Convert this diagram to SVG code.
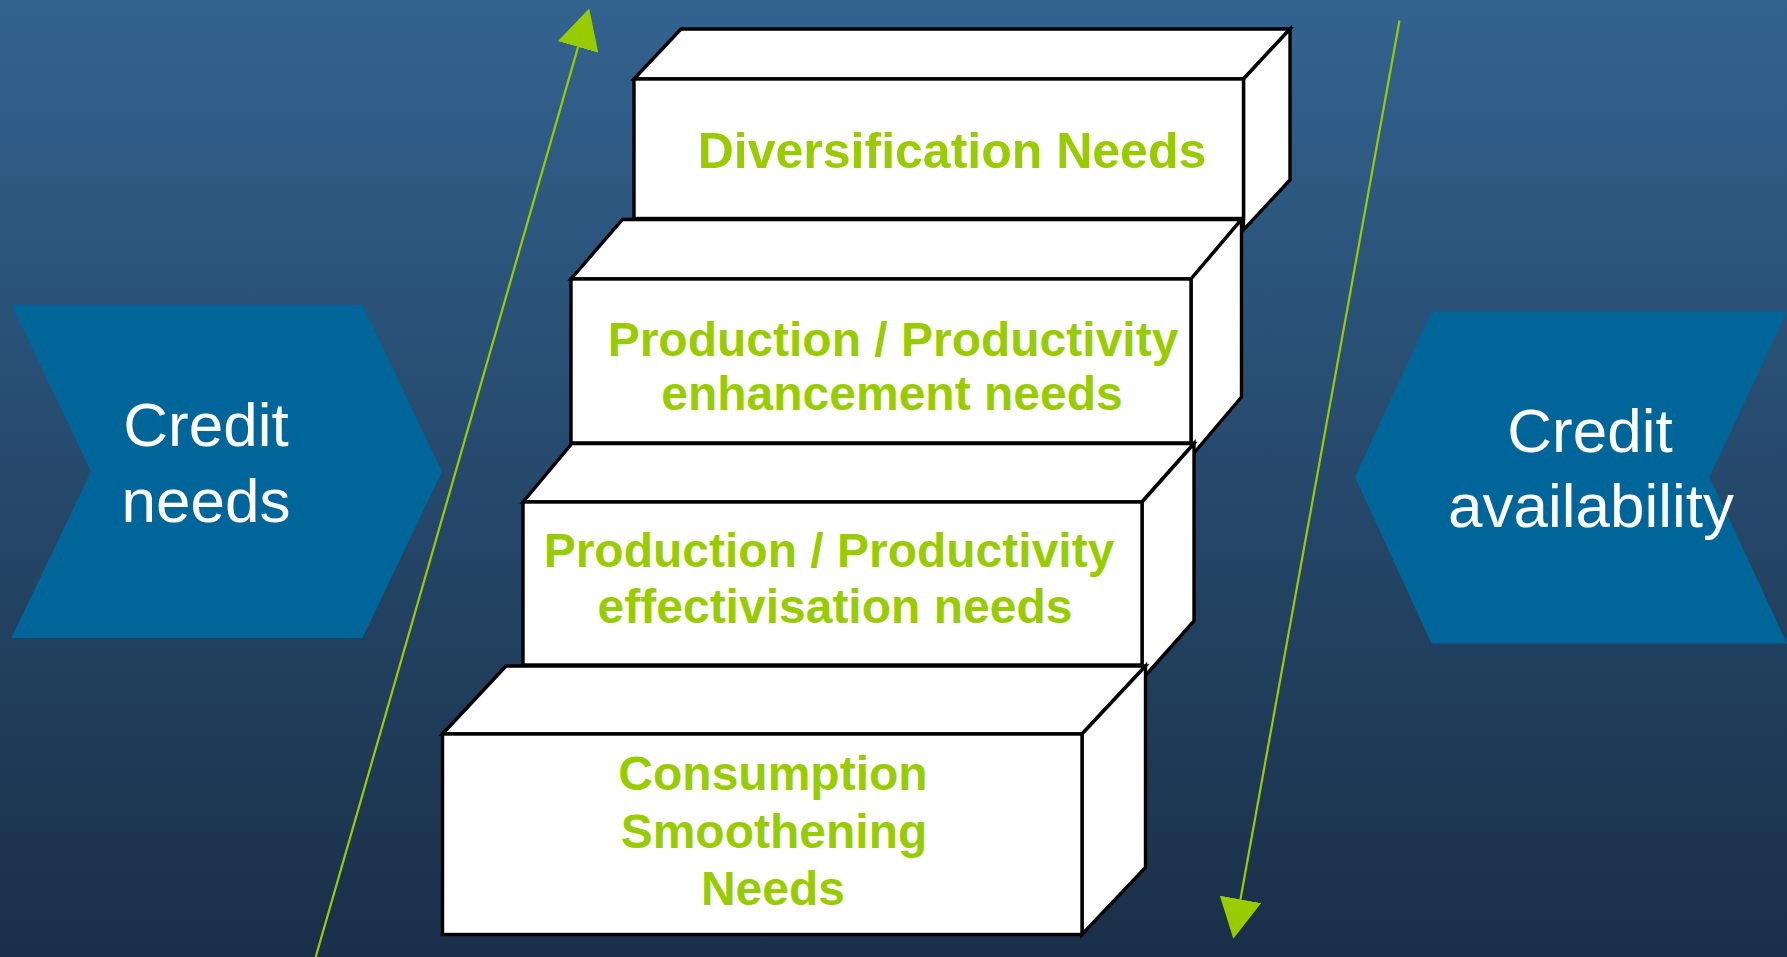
<svg xmlns="http://www.w3.org/2000/svg" width="1787" height="957" viewBox="0 0 1787 957">
  <defs>
    <linearGradient id="bg" x1="0" y1="0" x2="0" y2="1">
      <stop offset="0" stop-color="#32638f"/>
      <stop offset="1" stop-color="#1a2f48"/>
    </linearGradient>
    <marker id="arrow" markerUnits="userSpaceOnUse" markerWidth="42" markerHeight="42" refX="30" refY="21" orient="auto" viewBox="0 0 42 42">
      <path d="M0,0 L40,21 L0,42 Z" fill="#99cc00"/>
    </marker>
    <style>
      .face { fill: #ffffff; stroke: #000000; stroke-width: 3.4; stroke-linejoin: miter; }
      .lbl { font-family: "Liberation Sans", Arial, sans-serif; font-weight: bold; font-size: 48px; fill: #99cc00; text-anchor: middle; }
      .big { font-size: 50px; }
      .chev { fill: #006699; }
      .ctext { font-family: "Liberation Sans", Arial, sans-serif; font-size: 62px; fill: #ffffff; text-anchor: middle; }
      .conn { stroke: #99cc00; stroke-width: 2.2; fill: none; }
    </style>
  </defs>

  <rect x="0" y="0" width="1787" height="957" fill="url(#bg)"/>

  <g id="credit-needs">
    <polygon class="chev" points="11.5,305 362.5,305 442,471.5 362.5,638 11.5,638 91,471.5"/>
    <text class="ctext" x="206" y="446">Credit</text>
    <text class="ctext" x="206" y="522">needs</text>
  </g>

  <g id="credit-availability">
    <polygon class="chev" points="1431.5,311.5 1787,311.5 1709.5,477 1787,643.5 1431.5,643.5 1355,477"/>
    <text class="ctext" x="1590" y="452">Credit</text>
    <text class="ctext" x="1591" y="527">availability</text>
  </g>

  <g id="step-diversification">
    <polygon class="face" points="634,79 681,29 1290,29 1243.5,79"/>
    <polygon class="face" points="1243.5,79 1290,29 1290,180 1243.5,230"/>
    <rect class="face" x="634" y="79" width="609.5" height="139.5"/>
    <text class="lbl big" x="952" y="168">Diversification Needs</text>
  </g>

  <g id="step-enhancement">
    <polygon class="face" points="571,279 622.5,219.5 1241.5,219.5 1191,279"/>
    <polygon class="face" points="1191,279 1241.5,219.5 1241.5,397 1191,456.5"/>
    <rect class="face" x="571" y="279" width="620" height="164"/>
    <text class="lbl" x="893" y="356">Production / Productivity</text>
    <text class="lbl" x="892" y="410">enhancement needs</text>
  </g>

  <g id="step-effectivisation">
    <polygon class="face" points="523,502 572,443.5 1194,443.5 1142,502"/>
    <polygon class="face" points="1142,502 1194,443.5 1194,621 1142,679.5"/>
    <rect class="face" x="523" y="502" width="619" height="163"/>
    <text class="lbl" x="829" y="567">Production / Productivity</text>
    <text class="lbl" x="835" y="623">effectivisation needs</text>
  </g>

  <g id="step-consumption">
    <polygon class="face" points="442.5,734 506,666 1145.5,666 1082,734"/>
    <polygon class="face" points="1082,734 1145.5,666 1145.5,867.5 1082,934.5"/>
    <rect class="face" x="442.5" y="734" width="639.5" height="200.5"/>
    <text class="lbl" x="773" y="790">Consumption</text>
    <text class="lbl" x="774" y="848">Smoothening</text>
    <text class="lbl" x="773" y="905">Needs</text>
  </g>

  <g id="connectors">
    <line class="conn" x1="315.7" y1="957" x2="586.4" y2="18.1" marker-end="url(#arrow)"/>
    <line class="conn" x1="1399.5" y1="20.5" x2="1235.1" y2="928.9" marker-end="url(#arrow)"/>
  </g>
</svg>
